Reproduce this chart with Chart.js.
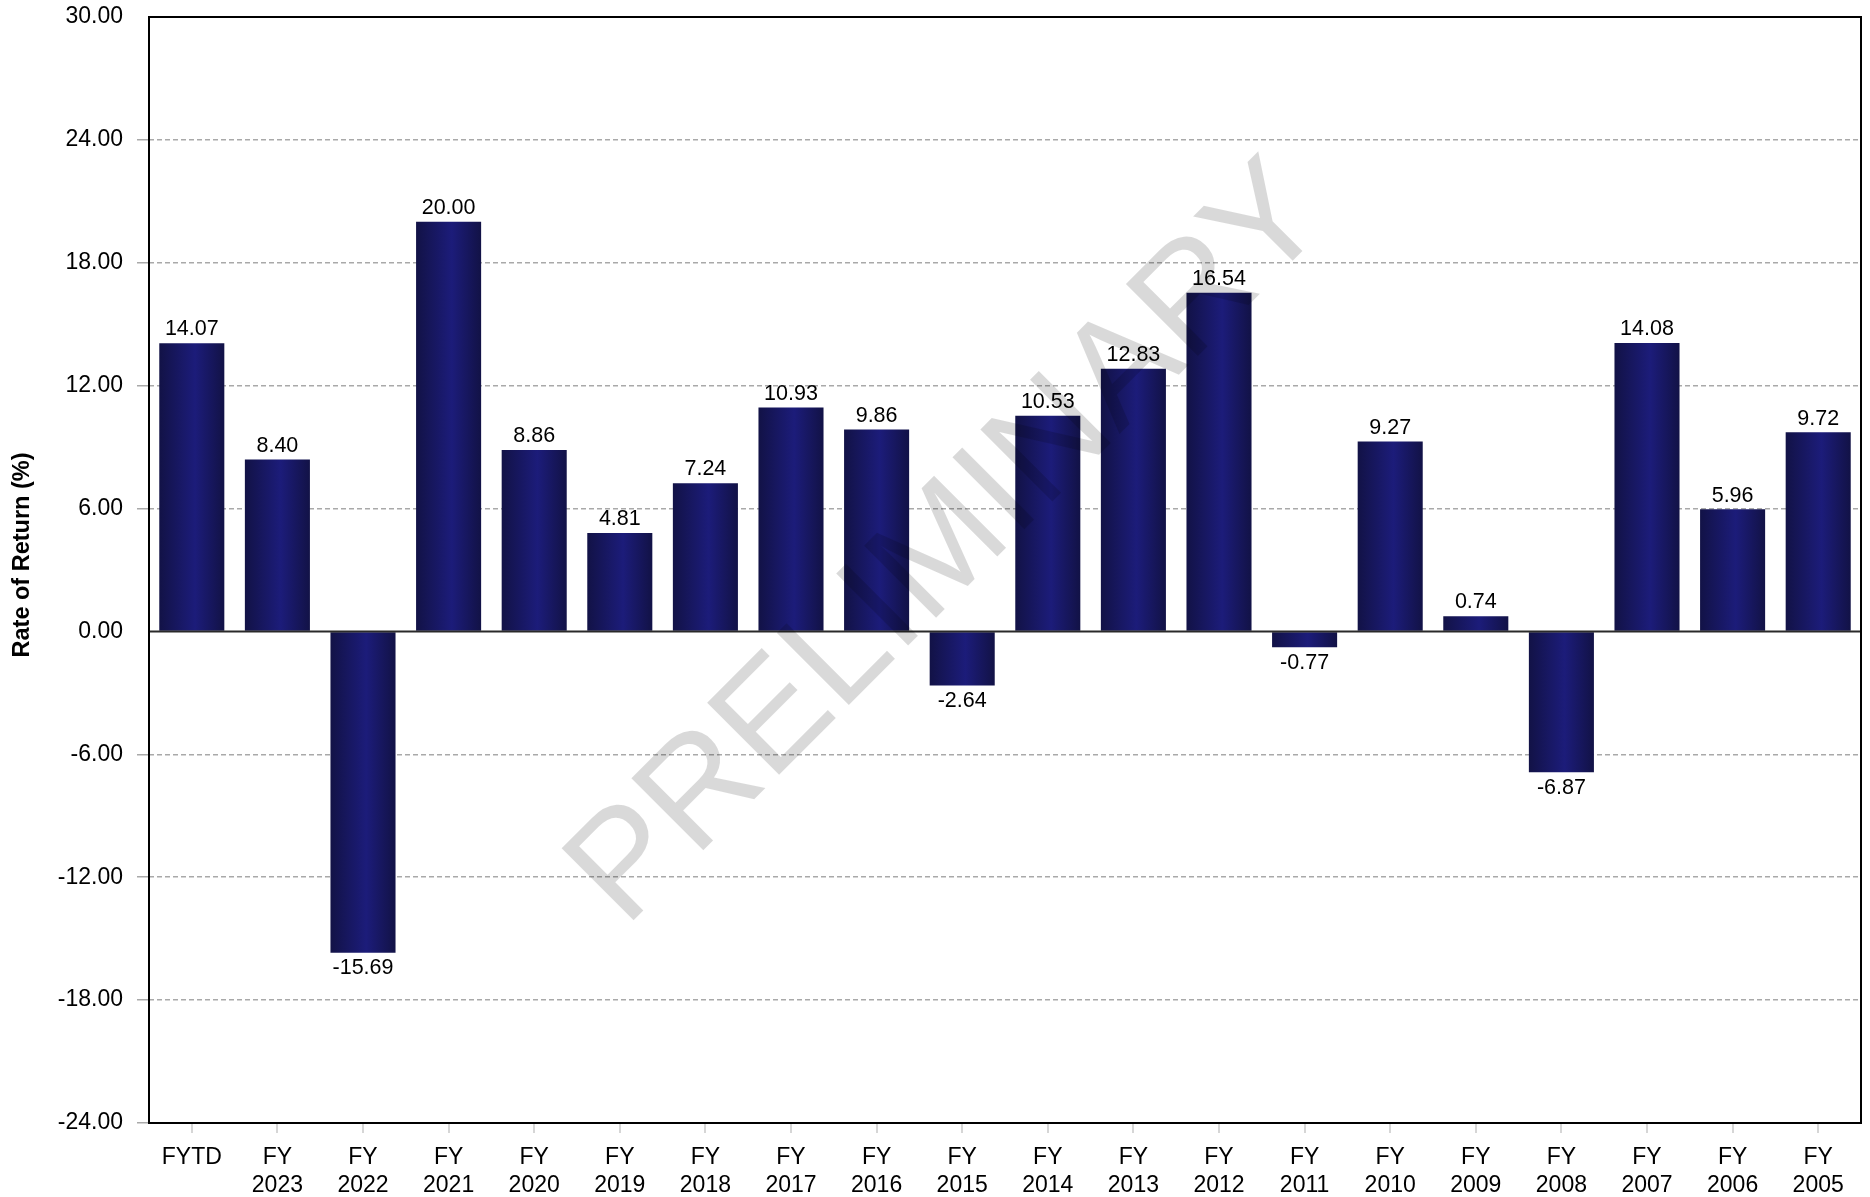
<!DOCTYPE html>
<html>
<head>
<meta charset="utf-8">
<script src="https://cdn.jsdelivr.net/npm/chart.js@4.4.0/dist/chart.umd.min.js"></script>
<style>
    body { margin: 0; background: #fff; }
    #wrap { width: 1870px; height: 1197px; }
</style>
</head>
<body>
<div id="wrap"><canvas id="bar-chart" width="1870" height="1197"></canvas></div>
<script>
let periods = ["FYTD", ["FY", "2023"], ["FY", "2022"], ["FY", "2021"], ["FY", "2020"], ["FY", "2019"], ["FY", "2018"],
    ["FY", "2017"], ["FY", "2016"], ["FY", "2015"], ["FY", "2014"], ["FY", "2013"], ["FY", "2012"], ["FY", "2011"],
    ["FY", "2010"], ["FY", "2009"], ["FY", "2008"], ["FY", "2007"], ["FY", "2006"], ["FY", "2005"]];
let returns = [14.07, 8.40, -15.69, 20.00, 8.86, 4.81, 7.24, 10.93, 9.86, -2.64,
    10.53, 12.83, 16.54, -0.77, 9.27, 0.74, -6.87, 14.08, 5.96, 9.72];
let yMin = -24;
let yMax = 30;
let yStep = 6;
let axisTitle = "Rate of Return (%)";
let watermark = "PRELIMINARY";

const fontFamily = "'Liberation Sans', Arial, Helvetica, sans-serif";
const barShare = 0.76;

// horizontal gradient across each bar, darker at the edges
function barFill(context) {
    const chart = context.chart;
    const xScale = chart.scales.x;
    if (!xScale || !chart.chartArea) return "#1a1a6e";
    const cx = xScale.getPixelForValue(context.dataIndex);
    const w = (xScale.width / periods.length) * barShare;
    const g = chart.ctx.createLinearGradient(cx - w / 2, 0, cx + w / 2, 0);
    g.addColorStop(0, "#121246");
    g.addColorStop(0.55, "#1c1c7a");
    g.addColorStop(1, "#121246");
    return g;
}

const frame = {
    id: "frame",
    afterDatasetsDraw(chart) {
        const ctx = chart.ctx;
        const area = chart.chartArea;
        const y = chart.scales.y;
        const meta = chart.getDatasetMeta(0);

        // zero line
        const zy = y.getPixelForValue(0);
        ctx.save();
        ctx.strokeStyle = "#2a2a2a";
        ctx.lineWidth = 2;
        ctx.beginPath();
        ctx.moveTo(area.left, zy);
        ctx.lineTo(area.right, zy);
        ctx.stroke();

        // value labels
        ctx.fillStyle = "#000";
        ctx.font = "21.5px " + fontFamily;
        ctx.textAlign = "center";
        meta.data.forEach((bar, i) => {
            const v = returns[i];
            if (v >= 0) {
                ctx.textBaseline = "bottom";
                ctx.fillText(v.toFixed(2), bar.x, bar.y - 3);
            } else {
                ctx.textBaseline = "top";
                ctx.fillText(v.toFixed(2), bar.x, bar.y + 5);
            }
        });

        // border box
        ctx.strokeStyle = "#000";
        ctx.lineWidth = 2;
        ctx.strokeRect(area.left, area.top, area.right - area.left, area.bottom - area.top);

        // axis title (sits a little above the middle of the axis)
        ctx.translate(23, 555);
        ctx.rotate(-Math.PI / 2);
        ctx.font = "bold 23.5px " + fontFamily;
        ctx.textBaseline = "middle";
        ctx.fillText(axisTitle, 0, 0);
        ctx.restore();
    },
    afterDraw(chart) {
        const ctx = chart.ctx;
        ctx.save();
        ctx.translate(950, 546);
        ctx.rotate(-45 * Math.PI / 180);
        ctx.font = "148px " + fontFamily;
        ctx.fillStyle = "rgba(0,0,0,0.15)";
        ctx.textAlign = "center";
        ctx.textBaseline = "middle";
        ctx.fillText(watermark, 0, 0);
        ctx.restore();
    }
};

let ctxBar = document.getElementById("bar-chart").getContext("2d");
let chart = new Chart(ctxBar, {
    type: "bar",
    data: {
        labels: periods,
        datasets: [{
            data: returns,
            backgroundColor: barFill,
            borderWidth: 0,
            barPercentage: barShare,
            categoryPercentage: 1
        }]
    },
    options: {
        responsive: false,
        animation: false,
        layout: { padding: { top: 17, right: 9, left: 0, bottom: 0 } },
        plugins: {
            legend: { display: false },
            tooltip: { enabled: false }
        },
        scales: {
            x: {
                grid: {
                    display: true,
                    drawOnChartArea: false,
                    offset: false,
                    tickLength: 10,
                    color: "#d6d6d6",
                    lineWidth: 2
                },
                border: { display: false },
                ticks: {
                    color: "#000",
                    padding: 10,
                    maxRotation: 0,
                    autoSkip: false,
                    font: { family: fontFamily, size: 23, lineHeight: 1.24 }
                },
                afterFit: (scale) => {
                    scale.height = 74;
                    scale.paddingLeft = 0;
                    scale.paddingRight = 0;
                }
            },
            y: {
                min: yMin,
                max: yMax,
                grid: {
                    color: (c) => (c.tick && (c.tick.value === yMax || c.tick.value === 0)) ? "rgba(0,0,0,0)" : "#a9a9a9",
                    lineWidth: 1.5,
                    tickLength: 12
                },
                border: { display: false, dash: [5, 3] },
                ticks: {
                    stepSize: yStep,
                    color: "#000",
                    padding: 14,
                    font: { family: fontFamily, size: 23 },
                    callback: (v) => Number(v).toFixed(2)
                },
                afterFit: (scale) => {
                    scale.width = 149;
                    scale.paddingTop = 0;
                    scale.paddingBottom = 0;
                }
            }
        }
    },
    plugins: [frame]
});
</script>
</body>
</html>
